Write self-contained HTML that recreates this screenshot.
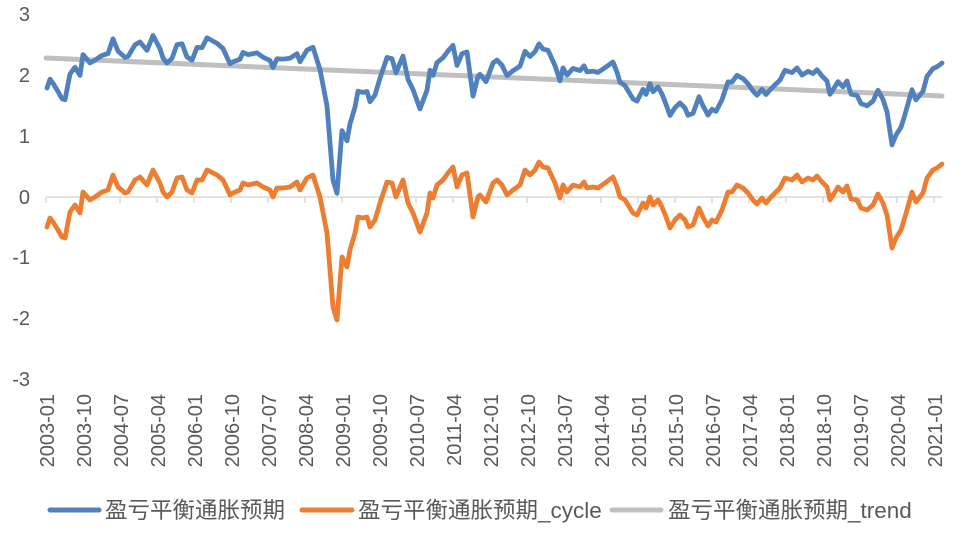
<!DOCTYPE html>
<html><head><meta charset="utf-8"><style>
body{margin:0;background:#fff;}
svg text{font-family:"Liberation Sans","Noto Sans CJK SC",sans-serif;fill:#595959;}
</style></head><body>
<svg width="966" height="535" viewBox="0 0 966 535" xmlns="http://www.w3.org/2000/svg">
<g font-size="20" text-anchor="end">
<text x="30" y="21">3</text><text x="30" y="82">2</text><text x="30" y="143">1</text>
<text x="30" y="204">0</text><text x="30" y="264">-1</text><text x="30" y="325">-2</text><text x="30" y="386">-3</text>
</g>
<line x1="46" y1="197" x2="942" y2="197" stroke="#d9d9d9" stroke-width="1.5"/>
<g id="ticks" stroke="#d9d9d9" stroke-width="1.5"></g>
<g id="xl" font-size="20" text-anchor="end"></g>
<polyline id="trend" fill="none" stroke="#bfbfbf" stroke-width="5" stroke-linecap="round" points="46,58 942,96"/>
<polyline id="blue" fill="none" stroke="#4e81bd" stroke-width="4.8" stroke-linejoin="round" stroke-linecap="round"/>
<polyline id="orange" fill="none" stroke="#ed7d31" stroke-width="4.8" stroke-linejoin="round" stroke-linecap="round"/>
<g font-size="22.5">
<line x1="50" y1="510" x2="99" y2="510" stroke="#4e81bd" stroke-width="5" stroke-linecap="round"/>
<text x="105" y="518">盈亏平衡通胀预期</text>
<line x1="302" y1="510" x2="352" y2="510" stroke="#ed7d31" stroke-width="5" stroke-linecap="round"/>
<text x="358" y="518">盈亏平衡通胀预期_cycle</text>
<line x1="612" y1="510" x2="661" y2="510" stroke="#bfbfbf" stroke-width="5" stroke-linecap="round"/>
<text x="668" y="518">盈亏平衡通胀预期_trend</text>
</g>
<script>
var o=[[47,227],[50,218],[53,222],[58,230],[62,237],[65,238],[70,212],[75,205],[80,213],[83,192],[90,200],[95,197],[102,192],[108,190],[113,175],[118,187],[125,193],[128,192],[135,180],[140,177],[147,185],[153,170],[160,183],[163,192],[167,197],[172,192],[177,178],[182,177],[187,190],[192,193],[197,180],[202,180],[207,170],[217,175],[223,180],[230,195],[233,193],[240,190],[243,183],[248,185],[257,183],[263,187],[270,190],[273,197],[277,188],[283,188],[290,187],[297,182],[300,190],[307,178],[313,175],[320,197],[327,233],[333,307],[337,320],[342,257],[347,267],[350,250],[355,233],[358,217],[363,218],[367,217],[370,227],[375,220],[380,203],[387,182],[392,183],[396,197],[403,180],[408,203],[413,213],[420,232],[427,213],[430,193],[433,198],[437,185],[443,180],[448,173],[453,167],[457,187],[462,175],[467,173],[473,217],[478,197],[480,195],[486,202],[493,183],[497,180],[502,185],[507,195],[513,190],[520,185],[525,170],[530,175],[535,170],[539,162],[543,167],[548,168],[555,183],[560,198],[563,185],[567,192],[573,185],[580,187],[584,182],[587,188],[593,187],[598,188],[605,183],[613,177],[617,187],[620,197],[625,200],[633,213],[637,215],[643,203],[646,208],[650,197],[653,205],[658,200],[662,207],[666,217],[670,228],[675,220],[680,215],[685,220],[688,227],[693,225],[699,208],[703,217],[708,226],[712,220],[716,222],[722,210],[728,192],[732,192],[737,185],[743,188],[748,193],[753,200],[757,204],[762,198],[766,203],[771,197],[775,193],[780,188],[785,178],[792,180],[797,175],[802,182],[808,178],[813,180],[817,176],[822,182],[827,187],[830,200],[835,192],[838,187],[843,192],[847,186],[851,199],[857,200],[861,208],[867,210],[873,205],[878,194],[883,203],[887,215],[892,248],[896,238],[901,230],[905,217],[912,192],[916,202],[923,193],[927,178],[933,170],[937,168],[942,164]];
document.getElementById('orange').setAttribute('points',o.map(p=>p.join(',')).join(' '));
document.getElementById('blue').setAttribute('points',o.map(p=>{var t=58+(p[0]-46)*38/896;return p[0]+','+(t+p[1]-197).toFixed(1)}).join(' '));
var ns='http://www.w3.org/2000/svg',tk=document.getElementById('ticks'),xl=document.getElementById('xl');
for(var i=0;i<=24;i++){var x=46+i*37;var l=document.createElementNS(ns,'line');l.setAttribute('x1',x);l.setAttribute('x2',x);l.setAttribute('y1',197);l.setAttribute('y2',203);tk.appendChild(l);
var m=i*9,y=2003+Math.floor(m/12),mo=m%12+1;var t=document.createElementNS(ns,'text');t.setAttribute('transform','translate('+(x+8)+',394) rotate(-90)');t.textContent=y+'-'+(mo<10?'0':'')+mo;xl.appendChild(t);}
</script>
</svg>
</body></html>
